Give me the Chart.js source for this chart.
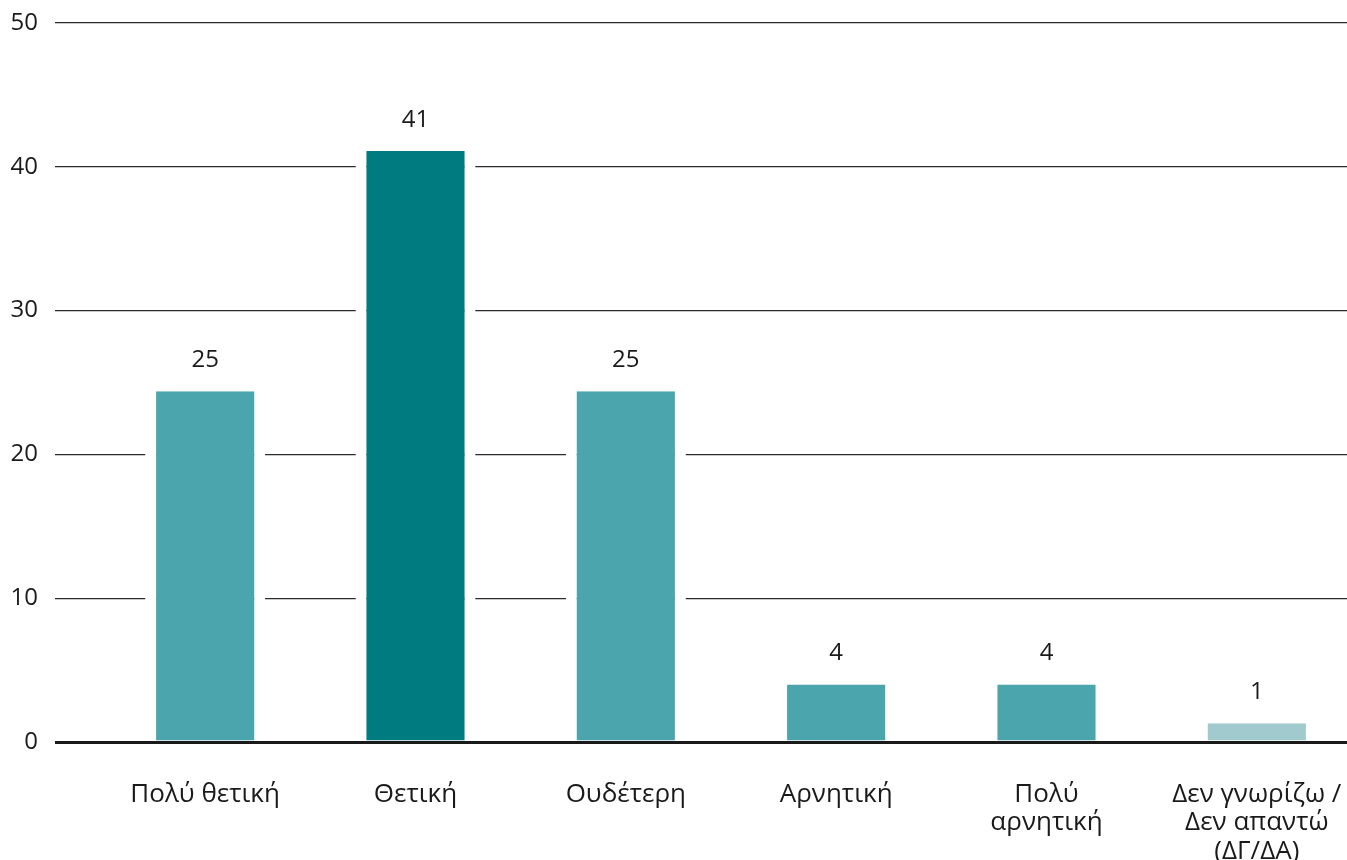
<!DOCTYPE html>
<html>
<head>
<meta charset="utf-8">
<script src="https://cdn.jsdelivr.net/npm/chart.js@4"></script>
<style>
    html, body { margin: 0; padding: 0; background: #fff; overflow: hidden; }
    #wrap { width: 1362px; height: 860px; }
</style>
</head>
<body>
<div id="wrap"><canvas id="barChart"></canvas></div>
<script>
// Opinion survey - share of answers (%)
const categories = [
    "Πολύ θετική",
    "Θετική",
    "Ουδέτερη",
    "Αρνητική",
    ["Πολύ", "αρνητική"],
    ["Δεν γνωρίζω /", "Δεν απαντώ", "(ΔΓ/ΔΑ)"]
];
const values = [24.4, 41.1, 24.4, 4.0, 4.0, 1.3];
const valueLabels = ["25", "41", "25", "4", "4", "1"];
const barColors = ["#4aa5ac", "#007b80", "#4aa5ac", "#4aa5ac", "#4aa5ac", "#a0cace"];
const yTicks = [0, 10, 20, 30, 40, 50];

const FONT = "'Open Sans', 'Noto Sans', sans-serif";

// value labels above the bars
const barLabels = {
    id: "barLabels",
    afterDatasetsDraw(chart) {
        const ctx = chart.ctx;
        const meta = chart.getDatasetMeta(0);
        ctx.save();
        ctx.font = "24px " + FONT;
        ctx.fillStyle = "#1a1a1a";
        ctx.textAlign = "center";
        ctx.textBaseline = "middle";
        meta.data.forEach((bar, i) => {
            ctx.fillText(valueLabels[i], bar.x, bar.y - 31);
        });
        ctx.restore();
    }
};

const ctx = document.getElementById("barChart").getContext("2d");

new Chart(ctx, {
    type: "bar",
    data: {
        labels: categories,
        datasets: [{
            data: values,
            backgroundColor: barColors,
            borderColor: "#ffffff",
            borderWidth: { left: 11, right: 11, top: 0, bottom: 0 },
            borderSkipped: false,
            barPercentage: 0.571,
            categoryPercentage: 1
        }]
    },
    options: {
        responsive: true,
        maintainAspectRatio: false,
        animation: false,
        layout: { padding: 0 },
        plugins: {
            legend: { display: false },
            tooltip: { enabled: false }
        },
        scales: {
            x: {
                z: 1,
                grid: { display: false, drawTicks: false },
                border: { display: true, color: "#1a1a1a", width: 3 },
                ticks: {
                    color: "#1a1a1a",
                    padding: 38,
                    maxRotation: 0,
                    autoSkip: false,
                    font: { family: FONT, size: 26, lineHeight: 1.1 }
                },
                afterFit(scale) {
                    scale.height = 118;
                    scale.paddingLeft = 0;
                    scale.paddingRight = 0;
                }
            },
            y: {
                min: 0,
                max: 50,
                afterBuildTicks(scale) {
                    scale.ticks = yTicks.map(v => ({ value: v }));
                },
                grid: {
                    color: c => (c.tick && c.tick.value === 0) ? "#1a1a1a" : "#2b2b2b",
                    lineWidth: c => (c.tick && c.tick.value === 0) ? 3 : 1.2,
                    drawTicks: true,
                    tickLength: 45
                },
                border: { display: false },
                ticks: {
                    color: "#1a1a1a",
                    padding: 17,
                    font: { family: FONT, size: 24 }
                },
                afterFit(scale) {
                    scale.width = 100;
                    scale.paddingTop = 23;
                    scale.paddingBottom = 0;
                }
            }
        }
    },
    plugins: [barLabels]
});
</script>
</body>
</html>
